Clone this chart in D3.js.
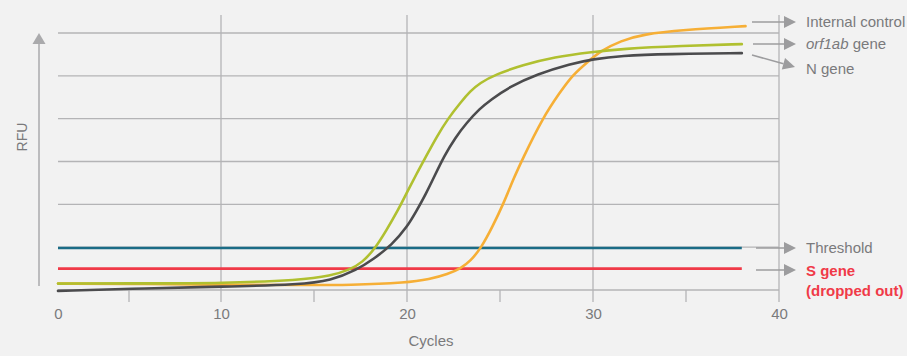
<!DOCTYPE html>
<html>
<head>
<meta charset="utf-8">
<script src="https://cdn.jsdelivr.net/npm/d3@7"></script>
<style>
  html, body { margin: 0; padding: 0; background: #f2f2f2; }
  svg { display: block; font-family: "Liberation Sans", Arial, sans-serif; }
</style>
</head>
<body>
<svg id="chart" width="907" height="356"></svg>
<script>
// Amplification curves, [cycle, RFU]
const internalControl = [[0,150],[6,140],[10,125],[14,115],[17,115],[20,170],[21.2,250],[22.2,370],[22.9,510],[23.4,670],[24,990],[24.6,1480],[25.2,2030],[25.7,2570],[26.2,3050],[27.3,4020],[28.2,4600],[28.9,5020],[29.7,5320],[30.4,5580],[31.5,5820],[32.7,5970],[34.8,6070],[38.2,6160]];
const orf1abGene = [[0,150],[6,155],[10,160],[14.3,230],[15.9,330],[16.9,470],[17.6,640],[18.3,980],[18.9,1400],[19.5,1850],[20,2280],[20.5,2700],[21,3100],[21.6,3580],[22.2,4000],[22.9,4390],[23.4,4640],[23.9,4830],[24.8,5040],[26.2,5250],[27.9,5440],[30,5560],[31.5,5630],[34.8,5700],[38,5740]];
const nGene = [[0,-20],[6,40],[10,75],[14.3,130],[15.9,220],[17.3,470],[18.2,720],[19.2,1060],[20,1470],[20.5,1840],[21,2230],[21.5,2680],[22,3130],[22.6,3560],[23.2,3900],[23.9,4230],[24.5,4440],[25.5,4740],[27,5040],[28.8,5280],[30,5390],[31.5,5470],[34,5510],[38,5530]];
const thresholdRFU = 980;
const sGeneRFU = 500; // dropped out: flat line
const lastCycle = 38;

const xTickLabels = [0, 10, 20, 30, 40];
const xMinorTicks = [5, 15, 25, 35];
const yGrid = [0, 1000, 2000, 3000, 4000, 5000, 6000];

const svg = d3.select("#chart");
const gridColor = "#b4b4b6";
const textColor = "#7a7a7c";

// scales (the original axis is compressed between 0 and 10)
const x = d3.scaleLinear().domain([0, 5, 10, 40]).range([58, 129, 221, 779]);
const y = d3.scaleLinear().domain([0, 6000]).range([290, 33]);

// horizontal grid
svg.append("g").selectAll("line").data(yGrid).join("line")
    .attr("x1", x(0)).attr("x2", x(40))
    .attr("y1", d => y(d)).attr("y2", d => y(d))
    .attr("stroke", gridColor).attr("stroke-width", 1.3);

// vertical grid lines at the major ticks
svg.append("g").selectAll("line").data(xTickLabels.filter(d => d > 0)).join("line")
    .attr("x1", d => x(d)).attr("x2", d => x(d))
    .attr("y1", 15).attr("y2", 302)
    .attr("stroke", gridColor).attr("stroke-width", 1.3);

// minor ticks below the baseline
svg.append("g").selectAll("line").data(xMinorTicks).join("line")
    .attr("x1", d => x(d)).attr("x2", d => x(d))
    .attr("y1", y(0)).attr("y2", 302)
    .attr("stroke", gridColor).attr("stroke-width", 1.3);

// x tick labels
const xAxis = svg.append("g")
    .attr("transform", `translate(0,${y(0)})`)
    .call(d3.axisBottom(x).tickValues(xTickLabels).tickSize(0).tickPadding(18));
xAxis.select(".domain").remove();
xAxis.selectAll("text")
    .attr("font-size", 15).attr("fill", textColor)
    .attr("font-family", "Liberation Sans, Arial, sans-serif");

svg.append("text")
    .attr("x", 431).attr("y", 346)
    .attr("text-anchor", "middle")
    .attr("font-size", 15).attr("fill", textColor)
    .text("Cycles");

// y axis arrow
svg.append("line")
    .attr("x1", 39).attr("x2", 39).attr("y1", 43).attr("y2", 286)
    .attr("stroke", "#aaaaac").attr("stroke-width", 1.5);
svg.append("path")
    .attr("d", "M39,33 L45.5,44 L32.5,44 Z")
    .attr("fill", "#aaaaac");
svg.append("text")
    .attr("transform", "translate(27,137) rotate(-90)")
    .attr("text-anchor", "middle")
    .attr("font-size", 14).attr("fill", textColor)
    .text("RFU");

// flat lines
svg.append("line")
    .attr("x1", x(0)).attr("x2", x(lastCycle))
    .attr("y1", y(sGeneRFU)).attr("y2", y(sGeneRFU))
    .attr("stroke", "#f03a48").attr("stroke-width", 2.6);
svg.append("line")
    .attr("x1", x(0)).attr("x2", x(lastCycle))
    .attr("y1", y(thresholdRFU)).attr("y2", y(thresholdRFU))
    .attr("stroke", "#1b6c86").attr("stroke-width", 2.6);

// curves
const line = d3.line()
    .x(d => x(d[0]))
    .y(d => y(d[1]))
    .curve(d3.curveBasis);

const series = [
    { data: internalControl, color: "#f6af36" },
    { data: nGene, color: "#4b4b4d" },
    { data: orf1abGene, color: "#b0c030" }
];
svg.append("g").selectAll("path").data(series).join("path")
    .attr("d", d => line(d.data))
    .attr("fill", "none")
    .attr("stroke", d => d.color)
    .attr("stroke-width", 2.6)
    .attr("stroke-linecap", "round");

// labels with arrows
const arrowColor = "#9c9c9e";
const labels = [
    { text: "Internal control", from: [752, 22], to: [796, 22], ty: 27 },
    { text: "orf1ab", suffix: " gene", italic: true, from: [753, 44], to: [796, 44], ty: 49 },
    { text: "N gene", from: [752, 55], to: [795, 67], ty: 74 },
    { text: "Threshold", from: [756, 248], to: [796, 248], ty: 253 },
    { text: "S gene", sub: "(dropped out)", red: true, from: [756, 270], to: [796, 270], ty: 276 }
];

labels.forEach(l => {
    const [x1, y1] = l.from, [x2, y2] = l.to;
    const ang = Math.atan2(y2 - y1, x2 - x1);
    const headLen = 12, headHalf = 6;
    const bx = x2 - headLen * Math.cos(ang), by = y2 - headLen * Math.sin(ang);
    svg.append("line")
        .attr("x1", x1).attr("y1", y1).attr("x2", bx).attr("y2", by)
        .attr("stroke", arrowColor).attr("stroke-width", 1.5);
    svg.append("path")
        .attr("d", `M${x2},${y2} L${bx + headHalf * Math.sin(ang)},${by - headHalf * Math.cos(ang)} L${bx - headHalf * Math.sin(ang)},${by + headHalf * Math.cos(ang)} Z`)
        .attr("fill", arrowColor);

    const t = svg.append("text")
        .attr("x", 806).attr("y", l.ty)
        .attr("font-size", 15)
        .attr("fill", l.red ? "#f03a48" : textColor)
        .attr("font-weight", l.red ? "bold" : null);
    if (l.italic) {
        t.append("tspan").attr("font-style", "italic").text(l.text);
        t.append("tspan").text(l.suffix);
    } else {
        t.text(l.text);
    }
    if (l.sub) {
        svg.append("text")
            .attr("x", 806).attr("y", l.ty + 20)
            .attr("font-size", 15)
            .attr("fill", "#f03a48")
            .attr("font-weight", "bold")
            .text(l.sub);
    }
});
</script>
</body>
</html>
